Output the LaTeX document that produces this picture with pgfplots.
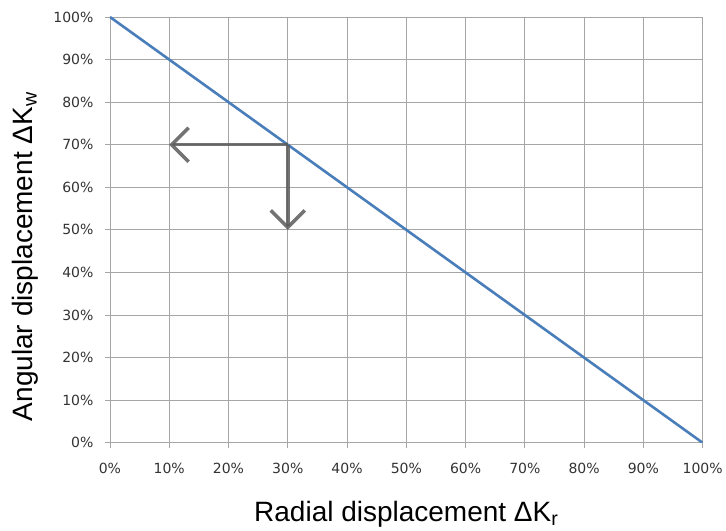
\documentclass[border=0pt]{standalone}
\usepackage{fontspec}
\setmainfont{Liberation Sans}
\newfontfamily\tickfont{DejaVu Sans}
\usepackage{pgfplots}
\pgfplotsset{compat=1.18}
\usetikzlibrary{arrows.meta}
\definecolor{lineblue}{HTML}{4A7EBB}
\definecolor{gridgray}{HTML}{A6A6A6}
\definecolor{arrowgray}{HTML}{5A5A5A}
\begin{document}
\begin{tikzpicture}
\begin{axis}[
    scale only axis,
    width=593pt, height=426pt,
    xmin=0, xmax=100, ymin=0, ymax=100,
    xtick={0,10,...,100}, ytick={0,10,...,100},
    xticklabel={\pgfmathprintnumber{\tick}\%},
    yticklabel={\pgfmathprintnumber{\tick}\%},
    /pgf/number format/assume math mode=true,
    ticklabel style={font=\tickfont\fontsize{14}{16}\selectfont, text=black!80},
    xticklabel style={yshift=-12pt},
    yticklabel style={xshift=-8pt},
    tick align=outside,
    major tick length=5pt,
    tick style={gridgray, line width=0.8pt},
    grid=major,
    grid style={gridgray, line width=0.8pt},
    axis line style={gridgray, line width=0.8pt},
    xtick pos=bottom, ytick pos=left,
    xlabel={Radial displacement ΔK\textsubscript{r}},
    ylabel={Angular displacement ΔK\textsubscript{w}},
    label style={font=\fontsize{28}{32}\selectfont},
    xlabel style={at={(axis description cs:0.5,-0.185)}, anchor=base},
    ylabel style={at={(axis description cs:-0.130,0.437)}, anchor=base},
]
\addplot[lineblue, line width=2.6pt] coordinates {(0,100) (100,0)};
\addplot[arrowgray, opacity=0.85, line width=3.5pt, -{Straight Barb[length=17pt, width=34pt, line width=3.5pt]}] coordinates {(30,70) (10,70)};
\addplot[arrowgray, opacity=0.85, line width=3.5pt, -{Straight Barb[length=17pt, width=34pt, line width=3.5pt]}] coordinates {(30,70) (30,50)};
\end{axis}
\path (current axis.south west) ++(-110pt,-87pt) rectangle ([shift={(23pt,17pt)}]current axis.north east);
\end{tikzpicture}
\end{document}
